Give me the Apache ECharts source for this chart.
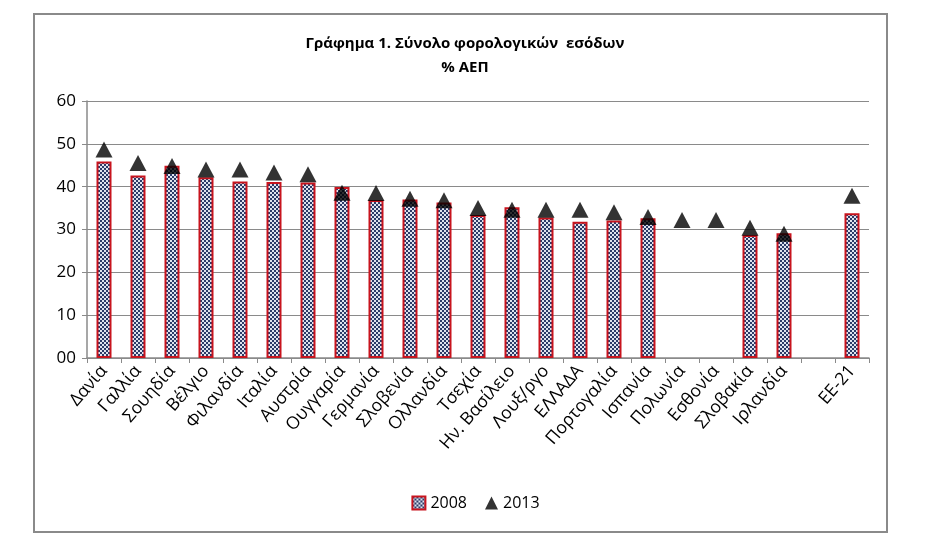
<!DOCTYPE html>
<html>
<head>
<meta charset="utf-8">
<script src="https://cdn.jsdelivr.net/npm/echarts@6/dist/echarts.min.js"></script>
<style>
html,body{margin:0;padding:0;background:#fff;}
#c{width:951px;height:545px;}
</style>
</head>
<body>
<div id="c"></div>
<script>
const categories = ['Δανία','Γαλλία','Σουηδία','Βέλγιο','Φιλανδία','Ιταλία','Αυστρία','Ουγγαρία','Γερμανία','Σλοβενία','Ολλανδία','Τσεχία','Ην. Βασίλειο','Λουξ/ργο','ΕΛΛΑΔΑ','Πορτογαλία','Ισπανία','Πολωνία','Εσθονία','Σλοβακία','Ιρλανδία','','ΕΕ-21'];
const values2008 = [45.9,42.6,44.9,42.2,41.2,41.1,41.0,39.9,36.9,37.0,36.3,33.4,35.2,32.8,31.8,32.1,32.6,null,null,28.7,29.1,null,33.8];
const values2013 = [48.7,45.5,44.8,44.0,44.0,43.3,42.9,38.6,38.5,37.2,36.8,35.0,34.6,34.6,34.6,34.0,32.9,32.2,32.2,30.4,29.0,null,37.9];
const yTicks = ['00','10','20','30','40','50','60'];

const pc = document.createElement('canvas');
pc.width = 4; pc.height = 4;
const g = pc.getContext('2d');
g.fillStyle = '#dfe3ee'; g.fillRect(0,0,4,4);
g.fillStyle = '#2c3b68'; g.fillRect(0,0,2,2); g.fillRect(2,2,2,2);

const font = '"Open Sans", "Noto Sans", sans-serif';
const chart = echarts.init(document.getElementById('c'));
chart.setOption({
  backgroundColor: '#fff',
  animation: false,
  title: {
    text: 'Γράφημα 1. Σύνολο φορολογικών  εσόδων\n% ΑΕΠ',
    left: 460, top: 27, textAlign: 'center',
    textStyle: {fontFamily: font, fontSize: 15, fontWeight: 'bold', color: '#000', lineHeight: 24}
  },
  graphic: [{
    type: 'rect', shape: {x: 34, y: 14, width: 853, height: 518},
    style: {fill: 'none', stroke: '#8a8a8a', lineWidth: 2}, silent: true
  }],
  legend: {
    bottom: 29, left: 'center', itemGap: 18, itemWidth: 13, itemHeight: 13,
    textStyle: {fontFamily: font, fontSize: 16, color: '#000'},
    data: [{name: '2008', icon: 'rect'}, {name: '2013', icon: 'triangle'}]
  },
  grid: {left: 87, right: 82, top: 101, bottom: 187, containLabel: false},
  xAxis: {
    type: 'category', data: categories,
    axisLine: {lineStyle: {color: '#8a8a8a', width: 1.5}},
    axisTick: {show: true, length: 5, alignWithLabel: false, interval: 0, lineStyle: {color: '#8a8a8a'}},
    axisLabel: {interval: 0, rotate: 49, fontFamily: font, fontSize: 17.5, color: '#000', margin: 10}
  },
  yAxis: {
    type: 'value', min: 0, max: 60, interval: 10,
    axisLine: {show: true, lineStyle: {color: '#8a8a8a', width: 1.5}},
    axisTick: {show: true, length: 5, lineStyle: {color: '#8a8a8a'}},
    splitLine: {lineStyle: {color: '#8a8a8a', width: 1}},
    axisLabel: {fontFamily: font, fontSize: 17, color: '#000', margin: 11,
      formatter: function (v) { return yTicks[Math.round(v / 10)]; }}
  },
  series: [{
    name: '2008', type: 'bar', data: values2008, barWidth: 15,
    itemStyle: {color: {image: pc, repeat: 'repeat'}, borderColor: '#c8141e', borderWidth: 2}
  }, {
    name: '2013', type: 'scatter', data: values2013, symbol: 'triangle', symbolSize: [17, 16],
    itemStyle: {color: '#000'}, z: 5
  }]
});
</script>
</body>
</html>
